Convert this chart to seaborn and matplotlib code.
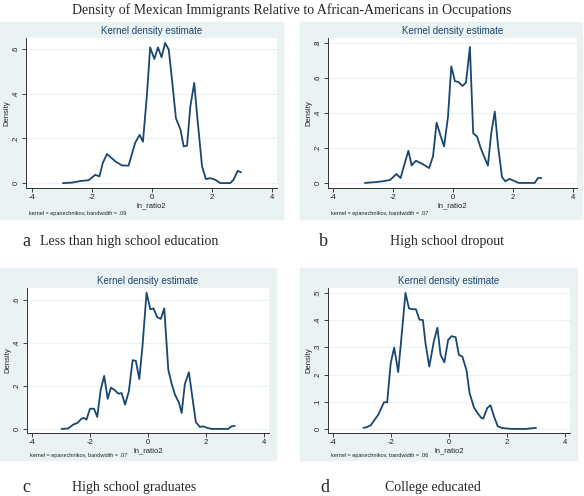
import matplotlib
matplotlib.use("Agg")
import matplotlib.pyplot as plt
import seaborn as sns
import pandas as pd
from matplotlib.patches import Rectangle

# panel a: less than high school education
a_x = [-2.97, -2.67, -2.39, -2.11, -1.89, -1.75, -1.64, -1.50, -1.22, -1.00, -0.78, -0.56,
       -0.41, -0.30, -0.17, -0.06, 0.08, 0.20, 0.32, 0.44, 0.56, 0.67, 0.80, 0.95, 1.06,
       1.17, 1.28, 1.41, 1.52, 1.67, 1.80, 1.95, 2.11, 2.28, 2.61, 2.72, 2.86, 2.97]
a_y = [0.0, 0.002, 0.009, 0.013, 0.037, 0.030, 0.090, 0.130, 0.097, 0.079, 0.078, 0.180,
       0.216, 0.185, 0.390, 0.607, 0.555, 0.607, 0.563, 0.627, 0.597, 0.460, 0.290, 0.240,
       0.164, 0.167, 0.343, 0.448, 0.284, 0.075, 0.018, 0.022, 0.015, 0.0, 0.0, 0.015,
       0.055, 0.048]

# panel b: high school dropout
b_x = [-2.94, -2.64, -2.36, -2.10, -1.89, -1.75, -1.61, -1.49, -1.38, -1.24, -1.02, -0.80,
       -0.67, -0.55, -0.42, -0.30, -0.17, -0.06, 0.06, 0.17, 0.32, 0.43, 0.56, 0.67, 0.80,
       0.92, 1.16, 1.27, 1.39, 1.50, 1.63, 1.74, 1.88, 2.04, 2.19, 2.72, 2.83, 2.94]
b_y = [0.0, 0.004, 0.009, 0.017, 0.051, 0.028, 0.114, 0.184, 0.100, 0.127, 0.108, 0.085,
       0.152, 0.345, 0.271, 0.209, 0.379, 0.667, 0.582, 0.578, 0.555, 0.574, 0.777, 0.284,
       0.265, 0.199, 0.099, 0.284, 0.408, 0.209, 0.034, 0.009, 0.023, 0.011, 0.0, 0.0,
       0.028, 0.028]

# panel c: high school graduates
c_x = [-2.98, -2.75, -2.58, -2.43, -2.29, -2.20, -2.12, -2.00, -1.86, -1.75, -1.63, -1.51,
       -1.39, -1.28, -1.16, -1.02, -0.91, -0.79, -0.66, -0.53, -0.42, -0.30, -0.19, -0.05,
       0.08, 0.19, 0.32, 0.44, 0.56, 0.70, 0.81, 0.93, 1.07, 1.16, 1.27, 1.41, 1.54, 1.65,
       1.79, 1.90, 2.04, 2.19, 2.76, 2.88, 2.99]
c_y = [0.0, 0.002, 0.020, 0.028, 0.048, 0.051, 0.043, 0.094, 0.094, 0.056, 0.182, 0.247,
       0.140, 0.192, 0.182, 0.164, 0.167, 0.113, 0.175, 0.320, 0.317, 0.232, 0.385, 0.634,
       0.557, 0.561, 0.520, 0.512, 0.561, 0.275, 0.213, 0.159, 0.121, 0.074, 0.209, 0.264,
       0.136, 0.031, 0.009, 0.012, 0.005, 0.0, 0.0, 0.012, 0.014]

# panel d: college educated
d_x = [-2.95, -2.85, -2.70, -2.44, -2.24, -2.13, -2.01, -1.89, -1.75, -1.61, -1.50, -1.38,
       -1.27, -1.14, -1.02, -0.90, -0.81, -0.68, -0.52, -0.40, -0.29, -0.16, -0.03, 0.09,
       0.23, 0.34, 0.46, 0.60, 0.71, 0.86, 1.00, 1.11, 1.18, 1.32, 1.43, 1.55, 1.68, 1.81,
       1.95, 2.18, 2.64, 3.00]
d_y = [0.004, 0.006, 0.013, 0.052, 0.098, 0.098, 0.241, 0.299, 0.209, 0.370, 0.500, 0.443,
       0.440, 0.440, 0.402, 0.400, 0.315, 0.229, 0.323, 0.372, 0.272, 0.245, 0.327, 0.341,
       0.337, 0.272, 0.266, 0.217, 0.132, 0.079, 0.056, 0.041, 0.038, 0.077, 0.087, 0.046,
       0.010, 0.004, 0.002, 0.0, 0.0, 0.004]

letters = ["a", "b", "c", "d"]
captions = ["Less than high school education", "High school dropout",
            "High school graduates", "College educated"]
bandwidths = [".09", ".07", ".07", ".06"]
y_ticks = [[0, 0.2, 0.4, 0.6], [0, 0.2, 0.4, 0.6, 0.8], [0, 0.2, 0.4, 0.6],
           [0, 0.1, 0.2, 0.3, 0.4, 0.5]]
x_ticks = [-4, -2, 0, 2, 4]
main_title = "Density of Mexican Immigrants Relative to African-Americans in Occupations"

sns.set_style("white")
plt.rcParams["font.family"] = ["Liberation Sans", "DejaVu Sans"]

W, H = 584, 496
BG = "#eaf2f3"
NAVY = "#1a476f"
fig = plt.figure(figsize=(W / 100, H / 100), dpi=100)


def fx(x):
    return x / W


def fy(y):
    return 1 - y / H


# layout in pixels: bg box, plot box, xlim, ylim, note y, caption positions
layout = [
    dict(bg=(0, 22, 283, 219), pl=(26, 38, 277, 188), xlim=(-4.2, 4.17), ylim=(-0.022, 0.649),
         note=213, letter=(22, 242), cap=(40, 242)),
    dict(bg=(300, 22, 582, 219), pl=(328, 38, 577, 188), xlim=(-4.17, 4.13), ylim=(-0.029, 0.829),
         note=213, letter=(319, 242), cap=(390, 242)),
    dict(bg=(0, 268, 276, 460), pl=(27, 288, 269, 433), xlim=(-4.17, 4.17), ylim=(-0.019, 0.656),
         note=456, letter=(22, 487), cap=(72, 487)),
    dict(bg=(300, 268, 577, 460), pl=(328, 288, 570, 433), xlim=(-4.17, 4.17), ylim=(-0.015, 0.518),
         note=456, letter=(320, 487), cap=(385, 487)),
]
series = [(a_x, a_y), (b_x, b_y), (c_x, c_y), (d_x, d_y)]


def tick_fmt(v):
    if v == 0:
        return "0"
    return ("%.1f" % v).lstrip("0")


for i, lay in enumerate(layout):
    l, t, r, b = lay["bg"]
    fig.add_artist(Rectangle((fx(l), fy(b)), (r - l) / W, (b - t) / H,
                             transform=fig.transFigure, color=BG, zorder=0))
    l, t, r, b = lay["pl"]
    ax = fig.add_axes([fx(l), fy(b), (r - l) / W, (b - t) / H])
    ax.set_facecolor("white")
    df = pd.DataFrame({"ln_ratio2": series[i][0], "Density": series[i][1]})
    sns.lineplot(data=df, x="ln_ratio2", y="Density", color=NAVY, lw=1.3, ax=ax)
    ax.set_xlim(*lay["xlim"])
    ax.set_ylim(*lay["ylim"])
    ax.set_xticks(x_ticks)
    ax.set_xticklabels([str(v) for v in x_ticks])
    ax.set_yticks(y_ticks[i])
    ax.set_yticklabels([tick_fmt(v) for v in y_ticks[i]], rotation=90, va="center")
    for yv in y_ticks[i]:
        ax.axhline(yv, color=BG, lw=0.8, zorder=0)
    ax.tick_params(axis="both", labelsize=5.5, length=3, width=0.6, pad=1.5, colors="#222222",
                   direction="out", bottom=True, left=True)
    for s in ["top", "right"]:
        ax.spines[s].set_visible(False)
    for s in ["left", "bottom"]:
        ax.spines[s].set_color("#333333")
        ax.spines[s].set_linewidth(0.7)
    ax.set_xlabel("ln_ratio2", fontsize=5.5, labelpad=1, color="#222222")
    ax.set_ylabel("Density", fontsize=5.5, labelpad=2, color="#222222")
    ax.set_title("Kernel density estimate", fontsize=7, color=NAVY, pad=3)
    fig.text(fx(l + 3), fy(lay["note"]), "kernel = epanechnikov, bandwidth = " + bandwidths[i],
             fontsize=4, color="#222222", va="center", ha="left")
    lx, ly = lay["letter"]
    fig.text(fx(lx), fy(ly), letters[i], fontsize=13, family="Liberation Serif",
             va="center", ha="left")
    cx, cy = lay["cap"]
    fig.text(fx(cx), fy(cy), captions[i], fontsize=10, family="Liberation Serif",
             va="center", ha="left")

fig.text(0.5, fy(10), main_title, fontsize=10, family="Liberation Serif",
         ha="center", va="center")

fig.savefig("out.png", dpi=100)
